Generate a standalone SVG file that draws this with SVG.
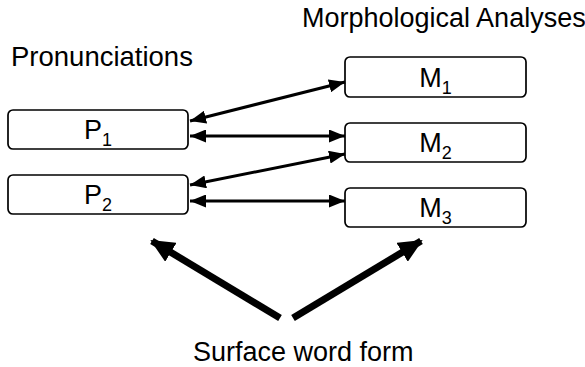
<svg xmlns="http://www.w3.org/2000/svg" width="585" height="367" viewBox="0 0 585 367">
<style>
.box{fill:#fff;stroke:#000;stroke-width:1.7}
.t{font-family:"Liberation Sans",Arial,sans-serif;font-size:27px;fill:#000}
.lbl{font-family:"Liberation Sans",Arial,sans-serif;font-size:27px;fill:#000;text-anchor:middle}
.sub{font-size:18px}
.thin{stroke:#000;stroke-width:3;fill:none;marker-start:url(#ah);marker-end:url(#ah)}
.thick{stroke:#000;stroke-width:7;fill:none;marker-end:url(#bh)}
</style>
<defs>
<marker id="ah" markerUnits="userSpaceOnUse" viewBox="0 0 16 13" refX="16" refY="6.5" markerWidth="16" markerHeight="13" orient="auto-start-reverse">
<path d="M0,0 L16,6.5 L0,13 Z" fill="#000"/>
</marker>
<marker id="bh" markerUnits="userSpaceOnUse" viewBox="0 0 24 22" refX="22" refY="11" markerWidth="24" markerHeight="22" orient="auto">
<path d="M0,0 L24,11 L0,22 Z" fill="#000"/>
</marker>
</defs>
<text class="t" x="11" y="66" font-size="27.5" style="font-size:27.5px">Pronunciations</text>
<text class="t" x="302" y="27">Morphological Analyses</text>
<text class="t" x="193" y="361">Surface word form</text>
<g id="P1"><rect class="box" x="8" y="110" width="180" height="39" rx="5"/><text class="lbl" x="98" y="139">P<tspan class="sub" dy="7">1</tspan></text></g>
<g id="P2"><rect class="box" x="8" y="175" width="180" height="39" rx="5"/><text class="lbl" x="98" y="204">P<tspan class="sub" dy="7">2</tspan></text></g>
<g id="M1"><rect class="box" x="345" y="57" width="181" height="40" rx="5"/><text class="lbl" x="435.5" y="87">M<tspan class="sub" dy="7">1</tspan></text></g>
<g id="M2"><rect class="box" x="345" y="123" width="181" height="39" rx="5"/><text class="lbl" x="435.5" y="152">M<tspan class="sub" dy="7">2</tspan></text></g>
<g id="M3"><rect class="box" x="345" y="188" width="181" height="39" rx="5"/><text class="lbl" x="435.5" y="217">M<tspan class="sub" dy="7">3</tspan></text></g>
<g id="connectors">
<path class="thin" d="M190,121 L345,82"/>
<path class="thin" d="M190,136 L345,136"/>
<path class="thin" d="M190,185 L345,154"/>
<path class="thin" d="M190,201 L345,201"/>
<path class="thick" d="M280,318 L152,241"/>
<path class="thick" d="M293,318 L421,241"/>
</g>
</svg>
